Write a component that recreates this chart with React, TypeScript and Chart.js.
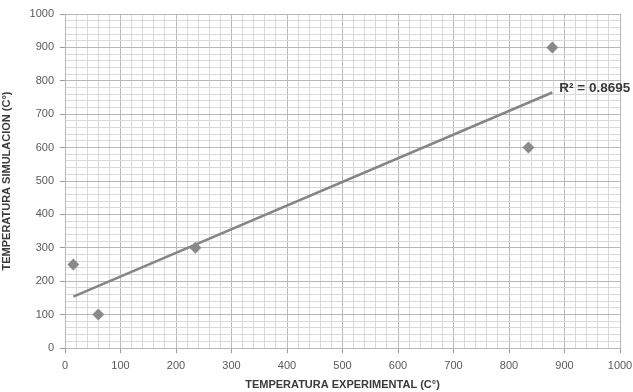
import React, { useEffect, useRef } from "react";
import { Chart, registerables } from "chart.js";

Chart.register(...registerables);

const expTemps = [15, 60, 235, 835, 878];
const simTemps = [250, 100, 300, 600, 900];
const trendX = [15, 878];
const trendY = [154, 765];
const r2Label = "R² = 0.8695";
const xTitle = "TEMPERATURA EXPERIMENTAL (C°)";
const yTitle = "TEMPERATURA SIMULACION (C°)";

const FONT = "'Liberation Sans', Arial, sans-serif";

export default function App() {
  const ref = useRef<HTMLCanvasElement | null>(null);
  useEffect(() => {
    document.body.style.margin = "0";
    const ctx = ref.current!.getContext("2d")!;
    const gridColor = (c: any) =>
      c.tick && c.tick.value % 100 === 0 ? "#b8b8b8" : "#d9d9d9";
    const tickColor = (c: any) =>
      c.tick && c.tick.value % 100 === 0 ? "#9a9a9a" : "rgba(0,0,0,0)";
    const r2Plugin = {
      id: "r2",
      afterDatasetsDraw(chart: any) {
        const { ctx, scales } = chart;
        const x = scales.x.getPixelForValue(trendX[1]);
        const y = scales.y.getPixelForValue(trendY[1]);
        ctx.save();
        ctx.font = `bold 13.5px ${FONT}`;
        ctx.fillStyle = "#3a3a3a";
        ctx.textBaseline = "middle";
        ctx.fillText(r2Label, x + 7, y - 4);
        ctx.restore();
      },
    };
    const chart = new Chart(ctx, {
      type: "scatter",
      data: {
        datasets: [
          {
            data: expTemps.map((x, i) => ({ x, y: simTemps[i] })),
            pointStyle: "rectRot",
            pointRadius: 6,
            backgroundColor: "#8a8a8a",
            borderColor: "#8a8a8a",
            borderWidth: 0,
            showLine: false,
          },
          {
            type: "line",
            data: trendX.map((x, i) => ({ x, y: trendY[i] })),
            borderColor: "#858585",
            borderWidth: 2.5,
            pointRadius: 0,
            showLine: true,
            fill: false,
          } as any,
        ],
      },
      options: {
        animation: false,
        responsive: false,
        maintainAspectRatio: false,
        layout: { padding: { top: 14, right: 13, left: 0, bottom: 0 } },
        plugins: { legend: { display: false }, tooltip: { enabled: false } },
        scales: {
          x: {
            type: "linear",
            min: 0,
            max: 1000,
            ticks: {
              stepSize: 20,
              autoSkip: false,
              maxRotation: 0,
              padding: 6,
              color: "#595959",
              font: { family: FONT, size: 11 },
              callback: (v: any) => (v % 100 === 0 ? String(v) : ""),
            },
            grid: { color: gridColor, tickColor, tickLength: 5, lineWidth: 1 },
            border: { color: "#b8b8b8" },
            title: {
              display: true,
              text: xTitle,
              color: "#3a3a3a",
              font: { family: FONT, size: 11, weight: "bold" },
              padding: { top: 0, bottom: 0 },
            },
            afterFit: (s: any) => {
              s.height = 44;
              s.paddingRight = 0;
              s.paddingLeft = 0;
            },
          },
          y: {
            type: "linear",
            min: 0,
            max: 1000,
            ticks: {
              stepSize: 20,
              autoSkip: false,
              padding: 6,
              color: "#595959",
              font: { family: FONT, size: 11 },
              callback: (v: any) => (v % 100 === 0 ? String(v) : ""),
            },
            grid: { color: gridColor, tickColor, tickLength: 5, lineWidth: 1 },
            border: { color: "#b8b8b8" },
            title: {
              display: true,
              text: yTitle,
              color: "#3a3a3a",
              font: { family: FONT, size: 11, weight: "bold" },
              padding: { top: 0, bottom: 2 },
            },
            afterFit: (s: any) => {
              s.width = 65;
              s.paddingTop = 0;
              s.paddingBottom = 0;
            },
          },
        },
      },
      plugins: [r2Plugin],
    });
    return () => chart.destroy();
  }, []);
  return (
    <div style={{ width: 633, height: 392, position: "relative" }}>
      <canvas ref={ref} width={633} height={392} style={{ display: "block" }} />
    </div>
  );
}
